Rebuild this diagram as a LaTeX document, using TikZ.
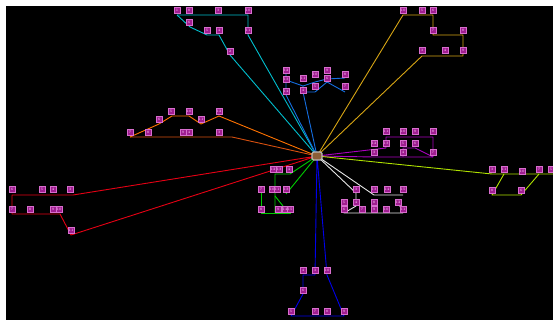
\documentclass[tikz,border=0pt]{standalone}
\begin{document}
\begin{tikzpicture}[x=1pt,y=-1pt,
  st/.style={rectangle,fill={rgb,255:red,160;green,30;blue,145},draw={rgb,255:red,215;green,110;blue,205},line width=0.3pt,minimum width=6.5pt,minimum height=6pt,inner sep=0.4pt,text={rgb,255:red,255;green,220;blue,250},font=\fontsize{3.5}{3.5}\selectfont},
  ln/.style={line width=0.9pt,line join=round},
  hubs/.style={rectangle,rounded corners=1.5pt,fill={rgb,255:red,140;green,95;blue,55},draw={rgb,255:red,185;green,185;blue,185},line width=1.2pt,minimum width=10pt,minimum height=8pt,inner sep=0pt}]
\definecolor{cy}{RGB}{0,190,205}
\definecolor{bm}{RGB}{20,110,225}
\definecolor{orA}{RGB}{255,115,0}
\definecolor{orB}{RGB}{215,80,15}
\definecolor{pu}{RGB}{170,0,190}
\definecolor{go}{RGB}{215,165,20}
\definecolor{rd}{RGB}{230,0,20}
\definecolor{gr}{RGB}{0,205,0}
\definecolor{wh}{RGB}{230,230,230}
\definecolor{yg}{RGB}{175,225,0}
\definecolor{bd}{RGB}{0,0,235}
\fill[white] (0,0) rectangle (553,320);
\fill[black] (6,6) rectangle (553,320);
\useasboundingbox (0,0) rectangle (553,320);
\coordinate (H) at (317,156);
% ---- cyan
\draw[ln,cy] (177,15) coordinate (ca) -- (248,15) coordinate (cb) -- (248,35) -- (H);
\draw[ln,cy] (ca) -- (190,27) -- (207,35) -- (219,35) -- (230,55) -- (H);
% ---- blue mid
\draw[ln,bm] (286,70) -- (286,95) -- (H);
\draw[ln,bm] (286,80) -- (303,86) -- (315,82) -- (327,79) -- (345,78);
\draw[ln,bm] (303,86) -- (303,92) -- (315,92) -- (327,82) -- (345,92);
\draw[ln,bm] (303,92) -- (H);
% ---- orange
\draw[ln,orB] (130,137) -- (232,137) -- (H);
\draw[ln,orA] (130,137) -- (159,124) -- (172,116) -- (189,116) -- (201,124) -- (219,116) -- (H);
% ---- purple
\draw[ln,pu] (H) -- (386,148) -- (386,137) -- (433,137) -- (433,157);
\draw[ln,pu] (H) -- (374,157) -- (433,157);
\draw[ln,pu] (403,157) -- (403,148) -- (415,148) -- (433,157);
% ---- gold
\draw[ln,go] (H) -- (403,15) -- (433,15) -- (433,35) -- (463,35) -- (463,56) -- (422,56) -- (H);
% ---- red
\draw[ln,rd] (H) -- (73,195) -- (12,195) -- (12,214) -- (60,214) -- (71,235) -- (H);
% ---- green
\draw[ln,gr] (H) -- (290,174) -- (275,174) -- (275,213);
\draw[ln,gr] (261,189) -- (261,213) -- (291,213);
\draw[ln,gr] (275,196) -- (283,206) -- (283,213);
\draw[ln,gr] (286,194) -- (H);
% ---- white
\draw[ln,wh] (H) -- (374,195) -- (403,195);
\draw[ln,wh] (H) -- (356,193) -- (356,206) -- (344,213) -- (403,213);
\draw[ln,wh] (374,202) -- (374,213);
\draw[ln,wh] (398,202) -- (403,213);
% ---- yellow-green
\draw[ln,yg] (H) -- (492,174) -- (553,174);
\draw[ln,yg] (504,174) -- (492,195) -- (521,195) -- (539,174);
% ---- blue bottom
\draw[ln,bd] (H) -- (315,275) -- (303,275) -- (303,294) -- (291,316) -- (344,316) -- (327,275) -- (H);
% ---- hub
\node[hubs] (hub) at (H) {};
% ---- stations
\foreach \n/\x/\y/\t in {
 c1/177/10/1, c8/189/10/8, c3/218/10/3, c10/248/10/10, c6/189/22/6, c5/207/30/5, c4/219/30/4, c2/230/51/2, c11/248/30/11,
 b12/286/70/12, b13/286/79/13, b14/286/91/14, b11/303/78/11, b4/303/90/4, b10/315/74/10, b5/315/86/5, b9/327/70/9, b6/327/78/6, b8/345/74/8, b7/345/86/7,
 o7/130/132/7, o8/148/132/8, o6/159/119/6, o5/171/111/5, o10/189/111/10, o11/201/119/11, o12/219/111/12, o9/183/132/9, o4/189/132/4, o3/219/132/3,
 p11/386/131/11, p10/403/131/10, p9/415/131/9, p8/433/131/8, p12/374/143/12, p13/386/143/13, p5/403/143/5, p6/415/143/6, p3/374/152/3, p4/403/152/4, p7/433/152/7,
 y10/403/10/10, y5/422/10/5, y6/433/10/6, y7/433/30/7, y8/463/30/8, y3/422/50/3, y4/445/50/4, y9/463/50/9,
 r6/12/189/6, r5/42/189/5, r4/53/189/4, r3/70/189/3, r7/12/209/7, r8/30/209/8, r9/53/209/9, r10/59/209/10, r11/71/230/11,
 g12/273/169/12, g13/279/169/13, g4/289/169/4, g7/261/189/7, g10/272/189/10, g11/277/189/11, g3/286/189/13, g8/261/209/8, g9/278/209/9, g14/285/209/14, g15/290/209/15,
 w3/356/189/3, w13/374/189/13, w14/387/189/14, w15/403/189/15, w5/344/202/5, w4/356/202/4, w8/374/202/8, w12/398/202/12, w6/344/209/6, w7/362/209/7, w9/374/209/9, w10/386/209/10, w11/403/209/11,
 l3/492/169/3, l11/504/169/11, l10/522/171/10, l7/539/169/7, l5/551/169/5, l8/492/190/8, l6/521/190/6,
 d4/303/270/4, d3/315/270/3, d10/327/270/10, d6/303/290/6, d5/291/311/5, d7/315/311/7, d8/327/311/8, d9/344/311/9}
 \node[st] (\n) at (\x,\y) {\t};
\end{tikzpicture}
\end{document}
